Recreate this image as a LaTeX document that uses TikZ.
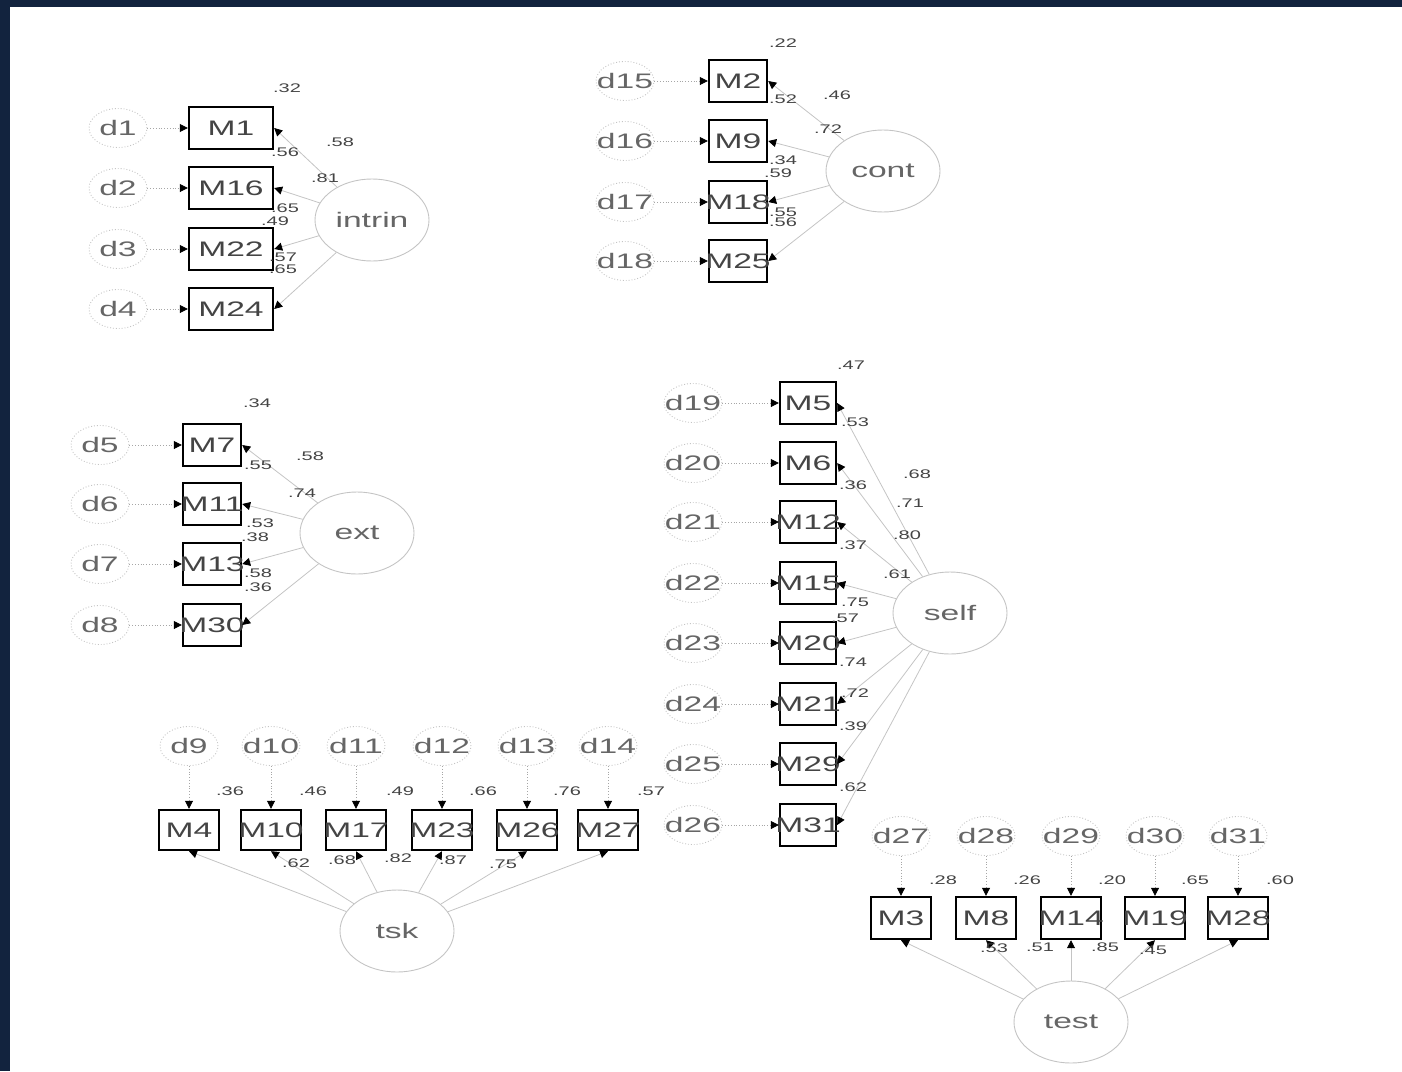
\documentclass[tikz,border=0pt]{standalone}
\usepackage{fontspec}
\setmainfont{Liberation Sans}
\newfontfamily\semfont[FakeStretch=1.6]{Liberation Sans}
\usetikzlibrary{arrows.meta,positioning,shapes.geometric}
\definecolor{navy}{HTML}{12233E}
\definecolor{txtgray}{HTML}{444444}
\definecolor{dgray}{HTML}{666666}
\definecolor{linegray}{HTML}{C4C4C4}
\newcommand{\zw}[1]{\makebox[0pt]{#1}}
\tikzset{
  obs/.style={draw=black, line width=2.4pt, minimum width=58pt, minimum height=42pt, inner sep=0pt, font=\semfont\fontsize{21}{22}\selectfont, text=txtgray},
  err/.style={ellipse, draw=linegray, dotted, line width=.9pt, minimum width=58pt, minimum height=39pt, inner sep=0pt, font=\semfont\fontsize{21}{22}\selectfont, text=dgray},
  lat/.style={ellipse, draw=linegray, line width=.9pt, minimum width=114pt, minimum height=82pt, inner sep=0pt, font=\semfont\fontsize{21}{22}\selectfont, text=dgray},
  load/.style={-{Triangle[length=8pt,width=8pt,color=black]}, draw=linegray, line width=.8pt},
  erra/.style={-{Triangle[length=8pt,width=8pt,color=black]}, draw=gray!70, dotted, line width=.8pt},
  num/.style={font=\semfont\fontsize{12.5}{13}\selectfont, text=txtgray, inner sep=0pt},
}
\begin{document}
\begin{tikzpicture}[x=1pt, y=-1pt]
    \useasboundingbox (0,0) rectangle (1402,1071);
    \fill[navy] (0,0) rectangle (1402,7);
    \fill[navy] (0,0) rectangle (10,1071);

    % intrin
    \foreach \n/\m/\y in {1/1/128, 2/16/188, 3/22/249, 4/24/309}{
      \node[err] (d\n) at (118,\y) {\zw{d\n}};
      \node[obs, minimum width=84pt] (m\m) at (231,\y) {\zw{M\m}};
      \draw[erra] (d\n) -- (m\m);
    }
    \node[lat] (intrin) at (372,220) {intrin};
    \foreach \m in {1,16,22,24}{\draw[load] (intrin) -- (m\m.east);}

    % cont
    \foreach \n/\m/\y in {15/2/81, 16/9/141, 17/18/202, 18/25/261}{
      \node[err] (d\n) at (625,\y) {\zw{d\n}};
      \node[obs] (m\m) at (738,\y) {\zw{M\m}};
      \draw[erra] (d\n) -- (m\m);
    }
    \node[lat] (cont) at (883,171) {cont};
    \foreach \m in {2,9,18,25}{\draw[load] (cont) -- (m\m.east);}

    % ext
    \foreach \n/\m/\y in {5/7/445, 6/11/504, 7/13/564, 8/30/625}{
      \node[err] (d\n) at (100,\y) {\zw{d\n}};
      \node[obs] (m\m) at (212,\y) {\zw{M\m}};
      \draw[erra] (d\n) -- (m\m);
    }
    \node[lat] (ext) at (357,533) {ext};
    \foreach \m in {7,11,13,30}{\draw[load] (ext) -- (m\m.east);}

    % self
    \foreach \n/\m/\y in {19/5/403, 20/6/463, 21/12/522, 22/15/583, 23/20/643, 24/21/704, 25/29/764, 26/31/825}{
      \node[err] (d\n) at (693,\y) {\zw{d\n}};
      \node[obs, minimum width=56pt] (m\m) at (808,\y) {\zw{M\m}};
      \draw[erra] (d\n) -- (m\m);
    }
    \node[lat] (self) at (950,613) {self};
    \foreach \m in {5,6,12,15,20,21,29,31}{\draw[load] (self) -- (m\m.east);}

    % tsk
    \foreach \n/\m/\x in {9/4/189, 10/10/271, 11/17/356, 12/23/442, 13/26/527, 14/27/608}{
      \node[err] (d\n) at (\x,746) {\zw{d\n}};
      \node[obs, minimum width=60pt, minimum height=40pt] (m\m) at (\x,830) {\zw{M\m}};
      \draw[erra] (d\n) -- (m\m);
    }
    \node[lat] (tsk) at (397,931) {tsk};
    \foreach \m in {4,10,17,23,26,27}{\draw[load] (tsk) -- (m\m.south);}

    % test
    \foreach \n/\m/\x in {27/3/901, 28/8/986, 29/14/1071, 30/19/1155, 31/28/1238}{
      \node[err] (d\n) at (\x,836) {\zw{d\n}};
      \node[obs, minimum width=60pt] (m\m) at (\x,918) {\zw{M\m}};
      \draw[erra] (d\n) -- (m\m);
    }
    \node[lat] (test) at (1071,1022) {test};
    \foreach \m in {3,8,14,19,28}{\draw[load] (test) -- (m\m.south);}

    % estimates
    \foreach \x/\y/\t [count=\i] in {287/88/.32, 340/142/.58, 285/152/.56, 325/178/.81, 285/208/.65, 275/221/.49, 283/257/.57, 283/269/.65,
        783/43/.22, 783/99/.52, 837/95/.46, 828/129/.72, 783/160/.34, 778/173/.59, 783/212/.55, 783/222/.56,
        257/403/.34, 310/456/.58, 258/465/.55, 302/493/.74, 260/523/.53, 255/537/.38, 258/573/.58, 258/587/.36,
        851/365/.47, 855/422/.53, 917/474/.68, 853/485/.36, 910/503/.71, 853/545/.37, 907/535/.80, 897/574/.61,
        855/602/.75, 845/618/.57, 853/662/.74, 855/693/.72, 853/726/.39, 853/787/.62,
        230/791/.36, 313/791/.46, 400/791/.49, 483/791/.66, 567/791/.76, 651/791/.57,
        296/863/.62, 342/860/.68, 398/858/.82, 453/860/.87, 503/864/.75,
        943/880/.28, 1027/880/.26, 1112/880/.20, 1195/880/.65, 1280/880/.60,
        994/948/.53, 1040/947/.51, 1105/947/.85, 1153/950/.45}{
      \node[num] (e\i) at (\x,\y) {\t};
    }
\end{tikzpicture}
\end{document}
